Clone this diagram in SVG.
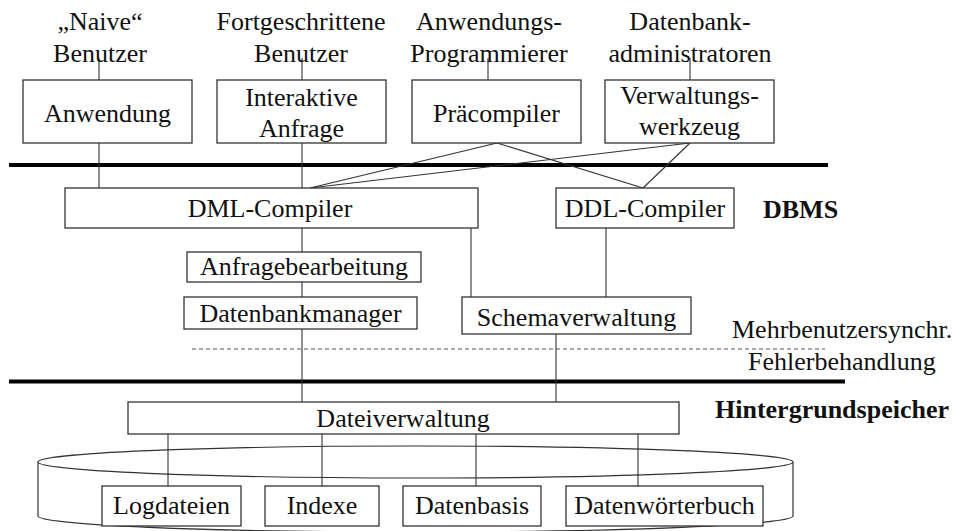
<svg xmlns="http://www.w3.org/2000/svg" width="958" height="531" viewBox="0 0 958 531">
<style>
text{font-family:"Liberation Serif","Times New Roman",serif;font-size:26px;fill:#111}
.c{text-anchor:middle}
.b{font-weight:bold}
.box{fill:#fff;stroke:#333;stroke-width:1.3}
.ln{stroke:#333;stroke-width:1.1;fill:none}
.thick{stroke:#000;stroke-width:4}
</style>
<rect width="958" height="531" fill="#fff"/>
<g id="layers">
<line class="thick" x1="9" y1="165" x2="828" y2="165"/>
<line class="thick" x1="9" y1="381.5" x2="845" y2="381.5"/>
<line x1="192" y1="349" x2="825" y2="349" stroke="#555" stroke-width="1" stroke-dasharray="4,3"/>
<text x="732" y="338">Mehrbenutzersynchr.</text>
<text x="748" y="370">Fehlerbehandlung</text>
<text class="b" x="763" y="218">DBMS</text>
<text class="b" x="715" y="418">Hintergrundspeicher</text>
</g>
<g id="storage">
<path d="M38,462 L38,516 A377,16 0 0 0 793,516 L793,462" fill="#fff" stroke="#333" stroke-width="1.2"/>
<ellipse cx="415.5" cy="462" rx="377.5" ry="16" fill="#fff" stroke="#333" stroke-width="1.2"/>
</g>
<g id="connectors">
<line class="ln" x1="99" y1="58" x2="99" y2="80"/>
<line class="ln" x1="302" y1="58" x2="302" y2="80"/>
<line class="ln" x1="488" y1="58" x2="488" y2="80"/>
<line class="ln" x1="690" y1="58" x2="690" y2="80"/>
<line class="ln" x1="99" y1="143" x2="99" y2="188"/>
<line class="ln" x1="302" y1="143" x2="302" y2="188"/>
<line class="ln" x1="497" y1="143" x2="310" y2="188"/>
<line class="ln" x1="690" y1="143" x2="310" y2="188"/>
<line class="ln" x1="497" y1="143" x2="643" y2="188"/>
<line class="ln" x1="690" y1="143" x2="643" y2="188"/>
<line class="ln" x1="302" y1="228" x2="302" y2="402"/>
<line class="ln" x1="471" y1="228" x2="471" y2="297"/>
<line class="ln" x1="606" y1="228" x2="606" y2="297"/>
<line class="ln" x1="556" y1="334" x2="556" y2="402"/>
<line class="ln" x1="168" y1="434" x2="168" y2="486"/>
<line class="ln" x1="322" y1="434" x2="322" y2="486"/>
<line class="ln" x1="476" y1="434" x2="476" y2="486"/>
<line class="ln" x1="638" y1="434" x2="638" y2="486"/>
</g>
<g id="user-naive"><text class="c" x="100" y="30">„Naive“</text><text class="c" x="100" y="62">Benutzer</text></g>
<g id="user-adv"><text class="c" x="301" y="30">Fortgeschrittene</text><text class="c" x="301" y="62">Benutzer</text></g>
<g id="user-prog"><text class="c" x="489" y="30">Anwendungs-</text><text class="c" x="489" y="62">Programmierer</text></g>
<g id="user-dba"><text class="c" x="690" y="30">Datenbank-</text><text class="c" x="690" y="62">administratoren</text></g>
<g id="anwendung"><rect class="box" x="23" y="80" width="169" height="63"/><text class="c" x="107.5" y="122">Anwendung</text></g>
<g id="interaktiv"><rect class="box" x="217" y="80" width="169" height="63"/><text class="c" x="301.5" y="106">Interaktive</text><text class="c" x="301.5" y="137">Anfrage</text></g>
<g id="praecompiler"><rect class="box" x="412" y="80" width="169" height="63"/><text class="c" x="496.5" y="122">Präcompiler</text></g>
<g id="verwaltungswerkzeug"><rect class="box" x="605" y="80" width="169" height="63"/><text class="c" x="689.5" y="104">Verwaltungs-</text><text class="c" x="689.5" y="135">werkzeug</text></g>
<g id="dml"><rect class="box" x="65" y="188" width="413" height="40"/><text class="c" x="270" y="217">DML-Compiler</text></g>
<g id="ddl"><rect class="box" x="556" y="188" width="178" height="40"/><text class="c" x="645" y="217">DDL-Compiler</text></g>
<g id="anfragebearbeitung"><rect class="box" x="187" y="252" width="234" height="30"/><text class="c" x="304" y="275">Anfragebearbeitung</text></g>
<g id="datenbankmanager"><rect class="box" x="184" y="297" width="233" height="32"/><text class="c" x="300.5" y="322">Datenbankmanager</text></g>
<g id="schemaverwaltung"><rect class="box" x="462" y="297" width="229" height="37"/><text class="c" x="576.5" y="326">Schemaverwaltung</text></g>
<g id="dateiverwaltung"><rect class="box" x="128" y="402" width="551" height="32"/><text class="c" x="403" y="427">Dateiverwaltung</text></g>
<g id="logdateien"><rect class="box" x="102" y="486" width="139" height="40"/><text class="c" x="171.5" y="514">Logdateien</text></g>
<g id="indexe"><rect class="box" x="265" y="486" width="114" height="40"/><text class="c" x="322" y="514">Indexe</text></g>
<g id="datenbasis"><rect class="box" x="403" y="486" width="138" height="40"/><text class="c" x="472" y="514">Datenbasis</text></g>
<g id="datenwoerterbuch"><rect class="box" x="566" y="486" width="197" height="40"/><text class="c" x="664.5" y="514">Datenwörterbuch</text></g>
</svg>
